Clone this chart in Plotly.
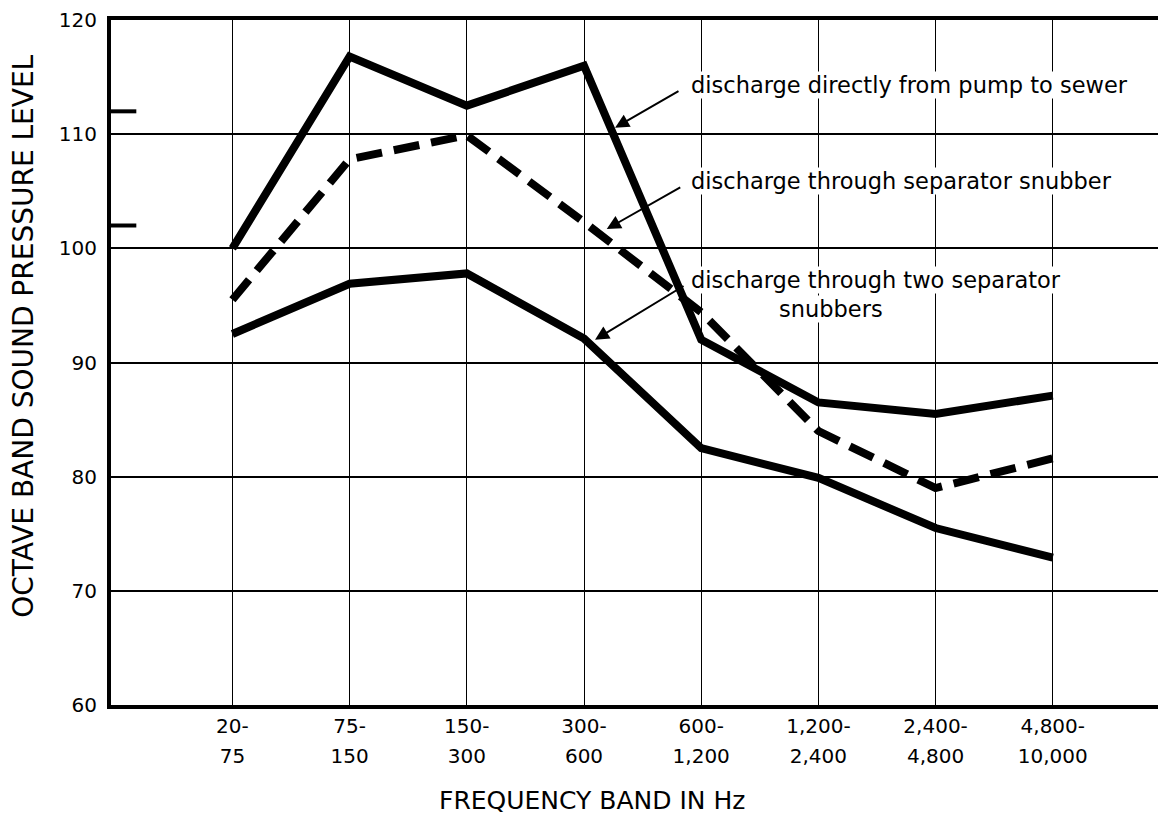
import plotly.graph_objects as go

# ---- data ----
band_low = ["20-", "75-", "150-", "300-", "600-", "1,200-", "2,400-", "4,800-"]
band_high = ["75", "150", "300", "600", "1,200", "2,400", "4,800", "10,000"]
direct_to_sewer = [100.0, 116.8, 112.5, 116.0, 92.0, 86.5, 85.5, 87.1]
one_snubber = [95.5, 107.8, 109.9, 102.3, 94.4, 84.0, 79.0, 81.6]
two_snubbers = [92.5, 96.9, 97.8, 92.1, 82.5, 79.9, 75.5, 72.9]
y_ticks = [60, 70, 80, 90, 100, 110, 120]
left_marks = [112, 102]

FONT = "DejaVu Sans"
idx = list(range(len(band_low)))

fig = go.Figure()
fig.add_trace(go.Scatter(x=idx, y=direct_to_sewer, mode="lines",
                         line=dict(color="black", width=8), showlegend=False))
fig.add_trace(go.Scatter(x=idx, y=one_snubber, mode="lines",
                         line=dict(color="black", width=8, dash="26px,12px"), showlegend=False))
# drawn on the overlaid axis (same range) so that the second tick-label row renders
fig.add_trace(go.Scatter(x=idx, y=two_snubbers, mode="lines", xaxis="x2", yaxis="y",
                         line=dict(color="black", width=8), showlegend=False))

xrange = [-1.036, 7.966]

# page body has an 8px margin; compensate so the plot lands where the reference has it
fig.update_layout(
    width=1158, height=809,
    margin=dict(l=103, r=0, t=9, b=112),
    paper_bgcolor="white", plot_bgcolor="white",
    font=dict(family=FONT, color="black", size=20),
    xaxis=dict(range=xrange, tickmode="array", tickvals=idx, ticktext=band_low,
               showgrid=True, gridcolor="black", gridwidth=1.3,
               showline=True, linecolor="black", linewidth=4, mirror=True,
               zeroline=False, ticks="", ticklabelstandoff=0,
               tickfont=dict(family=FONT, size=20, color="black")),
    xaxis2=dict(range=xrange, overlaying="x", anchor="y", side="bottom",
                tickmode="array", tickvals=idx, ticktext=band_high,
                showgrid=False, showline=False, zeroline=False, ticks="",
                ticklabelstandoff=37,
                tickfont=dict(family=FONT, size=20, color="black")),
    yaxis=dict(range=[60, 120], tickmode="array", tickvals=y_ticks,
               showgrid=True, gridcolor="black", gridwidth=1.6,
               showline=True, linecolor="black", linewidth=4, mirror=False,
               zeroline=False, ticks="", ticklabelstandoff=6,
               ticklabeloverflow="allow",
               tickfont=dict(family=FONT, size=20, color="black")),
)

shapes = []
for v in left_marks:
    shapes.append(dict(type="line", xref="paper", yref="y", x0=0, x1=0.024, y0=v, y1=v,
                       line=dict(color="black", width=4)))
fig.update_layout(shapes=shapes)

ann = []
arrows = [
    (3.265, 110.56, 3.819, 113.84),
    (3.194, 101.69, 3.834, 105.41),
    (3.094, 91.99, 3.862, 96.78),
]
for hx, hy, tx, ty in arrows:
    ann.append(dict(x=hx, y=hy, ax=tx, ay=ty, xref="x", yref="y", axref="x", ayref="y",
                    text="", showarrow=True, arrowhead=2, arrowsize=1.4, arrowwidth=2,
                    arrowcolor="black"))

labels = [
    ("discharge directly from pump to sewer", 3.904, 114.33, "left"),
    ("discharge through separator snubber", 3.904, 105.94, "left"),
    ("discharge through two separator", 3.904, 97.22, "left"),
    ("snubbers", 5.107, 94.69, "center"),
]
for t, x, y, xa in labels:
    ann.append(dict(x=x, y=y, xref="x", yref="y", text=t, showarrow=False,
                    xanchor=xa, yanchor="middle", bgcolor="white", borderpad=0,
                    font=dict(family=FONT, size=22.5, color="black")))

ann.append(dict(x=-0.0825, y=0.539, xref="paper", yref="paper", textangle=-90,
                text="OCTAVE BAND SOUND PRESSURE LEVEL", showarrow=False,
                xanchor="center", yanchor="middle",
                font=dict(family=FONT, size=28, color="black")))
ann.append(dict(x=0.456, y=-0.1395, xref="paper", yref="paper",
                text="FREQUENCY BAND IN Hz", showarrow=False,
                xanchor="center", yanchor="middle",
                font=dict(family=FONT, size=25, color="black")))
fig.update_layout(annotations=ann)

fig.write_html("out.html")
